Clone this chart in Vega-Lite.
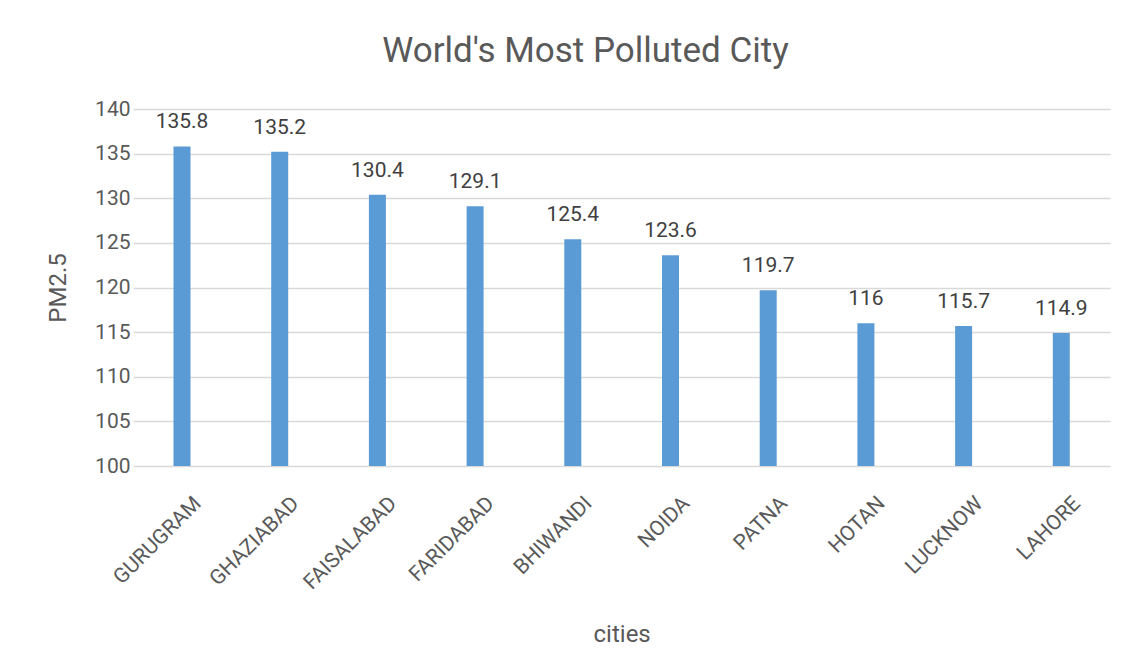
{
  "$schema": "https://vega.github.io/schema/vega-lite/v6.json",
  "autosize": "none",
  "width": 977,
  "height": 357,
  "padding": {"left": 155, "top": 109, "right": 16, "bottom": 206},
  "background": "white",
  "config": {
    "view": {"stroke": null},
    "font": "Roboto",
    "axis": {"labelColor": "#595959", "titleColor": "#595959", "labelFont": "Roboto", "titleFont": "Roboto", "titleFontWeight": "normal"}
  },
  "title": {
    "text": "World's Most Polluted City",
    "fontSize": 35,
    "font": "Roboto",
    "fontWeight": "normal",
    "color": "#595959",
    "anchor": "middle",
    "dx": -58,
    "offset": 29
  },
  "data": {
    "values": [
      {"city": "GURUGRAM", "pm": 135.8},
      {"city": "GHAZIABAD", "pm": 135.2},
      {"city": "FAISALABAD", "pm": 130.4},
      {"city": "FARIDABAD", "pm": 129.1},
      {"city": "BHIWANDI", "pm": 125.4},
      {"city": "NOIDA", "pm": 123.6},
      {"city": "PATNA", "pm": 119.7},
      {"city": "HOTAN", "pm": 116},
      {"city": "LUCKNOW", "pm": 115.7},
      {"city": "LAHORE", "pm": 114.9}
    ]
  },
  "encoding": {
    "x": {
      "field": "city",
      "type": "nominal",
      "sort": null,
      "scale": {"range": [-21.85, 955.15], "paddingInner": 0, "paddingOuter": 0},
      "axis": {
        "title": "cities",
        "titleFontSize": 24,
        "titlePadding": 30,
        "labelAngle": -45,
        "labelAlign": "right",
        "labelBaseline": "middle",
        "labelFontSize": 21,
        "labelPadding": 34,
        "labelOffset": 16,
        "domain": false,
        "ticks": false,
        "grid": false
      }
    },
    "y": {
      "field": "pm",
      "type": "quantitative",
      "scale": {"domain": [100, 140], "zero": false, "nice": false},
      "axis": {
        "title": "PM2.5",
        "titleFontSize": 24,
        "titlePadding": 24,
        "values": [100, 105, 110, 115, 120, 125, 130, 135, 140],
        "labelFontSize": 21,
        "labelPadding": 25,
        "domain": false,
        "ticks": false,
        "grid": true,
        "gridColor": "#D9D9D9",
        "gridWidth": 1.5
      }
    }
  },
  "layer": [
    {"mark": {"type": "bar", "width": 17, "color": "#5B9BD5", "clip": true}},
    {
      "mark": {"type": "text", "baseline": "alphabetic", "dy": -18, "fontSize": 21, "color": "#404040", "font": "Roboto"},
      "encoding": {"text": {"field": "pm", "type": "quantitative"}}
    }
  ]
}
